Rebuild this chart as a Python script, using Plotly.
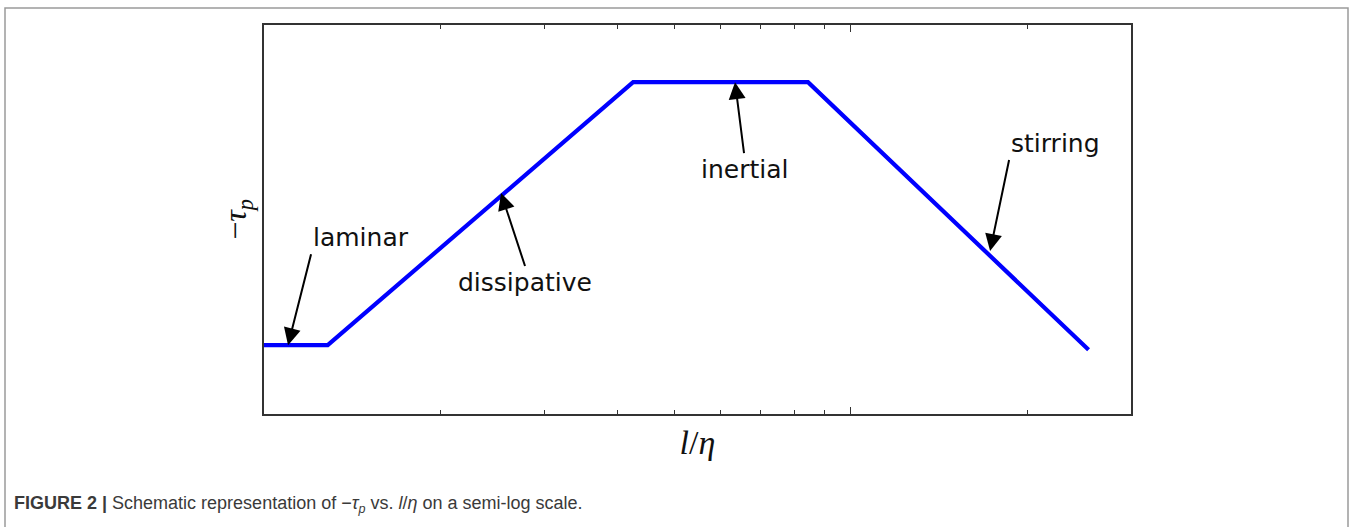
import plotly.graph_objects as go
import numpy as np

# Piecewise schematic of -tau_p against l/eta (x on a log axis)
l_over_eta = [1.0, 1.284, 4.255, 8.45, 25.4]
minus_tau_p = [0.177, 0.177, 0.853, 0.853, 0.165]

# Regime labels and the points their arrows touch
regimes = ["laminar", "dissipative", "inertial", "stirring"]
regime_x = [1.099, 2.534, 6.346, 17.26]
regime_y = [0.177, 0.568, 0.853, 0.419]

# Tick positions on the log axis (no labels drawn)
major_ticks = [1, 10]
minor_ticks = [2, 3, 4, 5, 6, 7, 8, 9, 20, 30]

W, H = 1357, 527
ML, MR, MT, MB = 264, 226, 25, 113
PW, PH = W - ML - MR, H - MT - MB

fig = go.Figure()
fig.add_trace(go.Scatter(
    x=l_over_eta, y=minus_tau_p, mode="lines",
    line=dict(color="#0000ff", width=4.2),
    hoverinfo="skip", showlegend=False,
))

# arrow tail offsets (px from the tip) and where the label sits on the tail
tail_offsets = [(23, -91), (24, 73), (9, 71), (19, -91)]
label_anchor = [("left", "bottom"), ("center", "top"),
                ("center", "top"), ("left", "bottom")]

for name, xv, yv, (ax, ay), (xa, ya) in zip(regimes, regime_x, regime_y,
                                           tail_offsets, label_anchor):
    fig.add_annotation(
        x=np.log10(xv), y=yv, xref="x", yref="y", text=name,
        showarrow=True, ax=ax, ay=ay, axref="pixel", ayref="pixel",
        xanchor=xa, yanchor=ya,
        arrowhead=2, arrowsize=1.7, arrowwidth=2, arrowcolor="#000000",
        standoff=0, startstandoff=0,
        font=dict(family="DejaVu Sans", size=25, color="#111111"),
    )

# caption below the figure
fig.add_annotation(
    x=(12 - ML) / PW, y=(H - MB - 504) / PH, xref="paper", yref="paper",
    xanchor="left", yanchor="middle", showarrow=False,
    text="<b>FIGURE 2 |</b> Schematic representation of \u2212<i>\u03c4<sub>p</sub></i>"
         " vs. <i>l</i>/<i>\u03b7</i> on a semi-log scale.",
    font=dict(family="Liberation Sans", size=18, color="#3a3a3a"),
)

# outer frame around the figure panel
def px_to_paper(px, py):
    return (px - ML) / PW, (H - MB - py) / PH

x0, y0 = px_to_paper(5, 530)
x1, y1 = px_to_paper(5, 8)
x2, y2 = px_to_paper(1348, 8)
x3, y3 = px_to_paper(1348, 530)
fig.add_shape(
    type="path", xref="paper", yref="paper",
    path=f"M{x0},{y0} L{x1},{y1} L{x2},{y2} L{x3},{y3}",
    line=dict(color="#9a9a9a", width=1.5),
)

fig.update_layout(
    width=W, height=H,
    margin=dict(l=ML, r=MR, t=MT, b=MB),
    paper_bgcolor="white", plot_bgcolor="white",
    showlegend=False,
    xaxis=dict(
        type="log", range=[0, np.log10(30)],
        showgrid=False, zeroline=False,
        showline=True, linecolor="#333333", linewidth=1.5, mirror="ticks",
        tickmode="array", tickvals=major_ticks, ticks="inside",
        ticklen=7, tickwidth=1, tickcolor="#333333",
        showticklabels=False,
        minor=dict(tickmode="array", tickvals=minor_ticks, ticks="inside",
                   ticklen=4, tickwidth=1, tickcolor="#333333", showgrid=False),
        title=dict(text="<i>l</i>/<i>\u03b7</i>", standoff=15,
                   font=dict(family="Liberation Serif", size=34, color="#111111")),
    ),
    yaxis=dict(
        range=[0, 1], showgrid=False, zeroline=False,
        showline=True, linecolor="#333333", linewidth=1.5, mirror=True,
        ticks="", showticklabels=False,
        title=dict(text="\u2212<i>\u03c4</i><sub><i>p</i></sub>", standoff=6,
                   font=dict(family="Liberation Serif", size=32, color="#111111")),
    ),
)

fig.write_html("out.html")
